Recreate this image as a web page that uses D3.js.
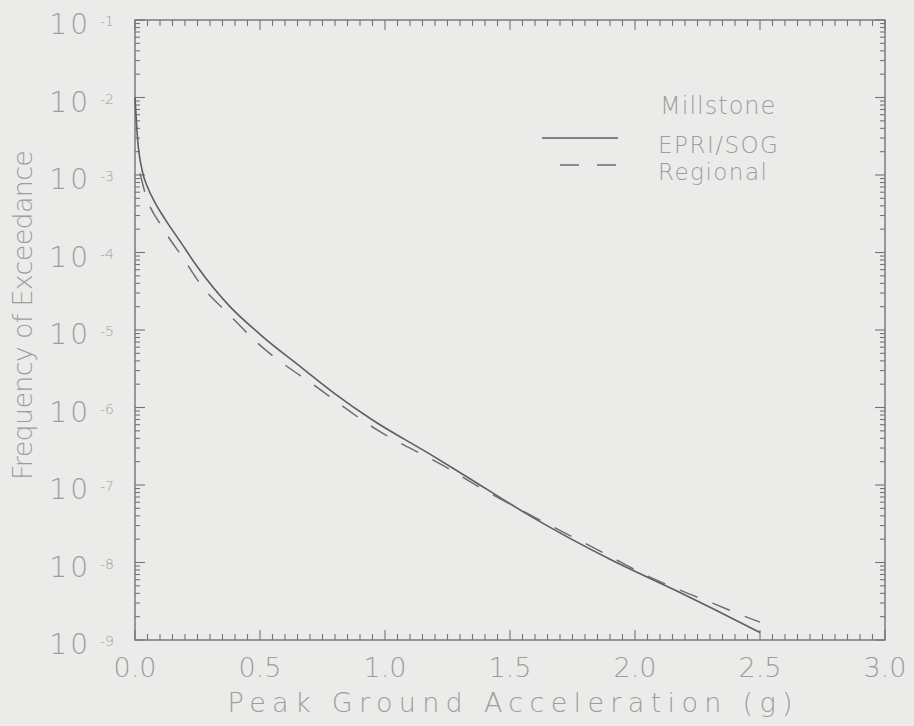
<!DOCTYPE html>
<html>
<head>
<meta charset="utf-8">
<script src="https://cdn.jsdelivr.net/npm/d3@7"></script>
<style>
  html, body { margin: 0; padding: 0; background: #ebebea; }
  svg { display: block; }
  text { font-family: "DejaVu Sans", "Noto Sans", sans-serif; font-weight: 200; fill: #9d9d9d; }
</style>
</head>
<body>
<div class="container"></div>
<script>
"use strict";

// EPRI/SOG hazard curve (solid)
var epriPga = [0.0, 0.01, 0.03, 0.05, 0.08, 0.12, 0.18, 0.25, 0.38, 0.5, 0.67, 0.8, 0.95, 1.18, 1.33, 1.58, 1.9, 2.18, 2.32, 2.5];
var epriFreq = [1.0e-2, 3.0e-3, 1.1e-3, 7.0e-4, 4.4e-4, 2.7e-4, 1.4e-4, 6.5e-5, 2.0e-5, 8.8e-6, 3.2e-6, 1.5e-6, 6.9e-7, 2.5e-7, 1.26e-7, 4.0e-8, 1.1e-8, 4.1e-9, 2.45e-9, 1.25e-9];

// Regional hazard curve (dashed)
var regPga = [0.02, 0.04, 0.11, 0.19, 0.27, 0.37, 0.49, 0.73, 0.97, 1.23, 1.38, 1.9, 2.03, 2.18, 2.32, 2.46, 2.5];
var regFreq = [1.05e-3, 5.9e-4, 2.1e-4, 8.7e-5, 3.6e-5, 1.66e-5, 6.8e-6, 1.8e-6, 5.1e-7, 1.8e-7, 9.3e-8, 1.2e-8, 7.2e-9, 4.4e-9, 2.9e-9, 1.9e-9, 1.7e-9];

var xTickLabels = ["0.0", "0.5", "1.0", "1.5", "2.0", "2.5", "3.0"];
var yExponents = [-1, -2, -3, -4, -5, -6, -7, -8, -9];
var legendTitle = "Millstone";
var legendNames = ["EPRI/SOG", "Regional"];

var W = 914, H = 726;
var pLeft = 135, pRight = 885, pTop = 20, pBottom = 640;

var svg = d3.select(".container").append("svg").attr("width", W).attr("height", H);
svg.append("rect").attr("width", W).attr("height", H).attr("fill", "#ebebea");

var x = d3.scaleLinear().domain([0, 3]).range([pLeft, pRight]);
var y = d3.scaleLog().domain([1e-9, 1e-1]).range([pBottom, pTop]);

var tickColor = "#747474";
var g = svg.append("g");

//Frame
g.append("rect").attr("x", pLeft).attr("y", pTop).attr("width", pRight - pLeft).attr("height", pBottom - pTop)
  .attr("fill", "none").attr("stroke", tickColor).attr("stroke-width", 1.4);

//X ticks every 0.05, long at 0.5, pointing inward top and bottom
var xt = d3.range(0, 61).map(function (i) { return i * 0.05; });
xt.forEach(function (v, i) {
  var len = (i % 10 === 0) ? 10 : 6;
  g.append("line").attr("x1", x(v)).attr("x2", x(v)).attr("y1", pBottom).attr("y2", pBottom - len).attr("stroke", tickColor).attr("stroke-width", 1.1);
  g.append("line").attr("x1", x(v)).attr("x2", x(v)).attr("y1", pTop).attr("y2", pTop + len).attr("stroke", tickColor).attr("stroke-width", 1.1);
});

//Y log ticks, pointing inward left and right
var yt = [];
yExponents.slice(1).forEach(function (e) {
  for (var m = 1; m <= 9; m++) yt.push({ v: m * Math.pow(10, e), major: m === 1 });
});
yt.push({ v: 1e-1, major: true });
yt.forEach(function (t) {
  var len = t.major ? 10 : 5;
  g.append("line").attr("x1", pLeft).attr("x2", pLeft + len).attr("y1", y(t.v)).attr("y2", y(t.v)).attr("stroke", tickColor).attr("stroke-width", 1.1);
  g.append("line").attr("x1", pRight).attr("x2", pRight - len).attr("y1", y(t.v)).attr("y2", y(t.v)).attr("stroke", tickColor).attr("stroke-width", 1.1);
});

//X tick labels
xTickLabels.forEach(function (lab) {
  svg.append("text").attr("x", x(+lab)).attr("y", 677).attr("text-anchor", "middle")
    .style("font-size", "27px").text(lab);
});

//Y tick labels 10^e
yExponents.forEach(function (e) {
  var py = y(Math.pow(10, e));
  svg.append("text").attr("x", 91).attr("y", py + 14).attr("text-anchor", "end")
    .style("font-size", "28px").attr("letter-spacing", "3px").text("10");
  svg.append("text").attr("x", 100).attr("y", py + 6).style("font-size", "14px").text(String(e));
});

//Axis titles
svg.append("text").attr("x", x(1.5)).attr("y", 712).attr("text-anchor", "middle")
  .style("font-size", "27px").attr("textLength", 565).attr("lengthAdjust", "spacing")
  .text("Peak Ground Acceleration (g)");
svg.append("text").attr("transform", "translate(32," + 315 + ") rotate(-90)").attr("text-anchor", "middle")
  .style("font-size", "27px").attr("textLength", 330).attr("lengthAdjust", "spacing")
  .text("Frequency of Exceedance");

//Curves
var line = d3.line().x(function (d) { return x(d[0]); }).y(function (d) { return y(d[1]); }).curve(d3.curveMonotoneX);
var epri = epriPga.map(function (v, i) { return [v, epriFreq[i]]; });
var reg = regPga.map(function (v, i) { return [v, regFreq[i]]; });

svg.append("path").datum(epri).attr("d", line).attr("fill", "none").attr("stroke", "#5e5e5e").attr("stroke-width", 1.6);
svg.append("path").datum(reg).attr("d", line).attr("fill", "none").attr("stroke", "#6e6e6e").attr("stroke-width", 1.5)
  .attr("stroke-dasharray", "19,16");

//Legend
svg.append("text").attr("x", 660).attr("y", 114).style("font-size", "24px").attr("letter-spacing", "1px").text(legendTitle);
var legY = [138, 165];
var legTextY = [153, 180];
legendNames.forEach(function (name, i) {
  svg.append("line").attr("x1", 542).attr("x2", 618).attr("y1", legY[i]).attr("y2", legY[i])
    .attr("stroke", i === 0 ? "#5e5e5e" : "#6e6e6e").attr("stroke-width", 1.5)
    .attr("stroke-dasharray", i === 0 ? null : "19,18").attr("stroke-dashoffset", i === 0 ? 0 : -18);
  svg.append("text").attr("x", 658).attr("y", legTextY[i]).style("font-size", "23px").attr("letter-spacing", "1.5px").text(name);
});
</script>
</body>
</html>
